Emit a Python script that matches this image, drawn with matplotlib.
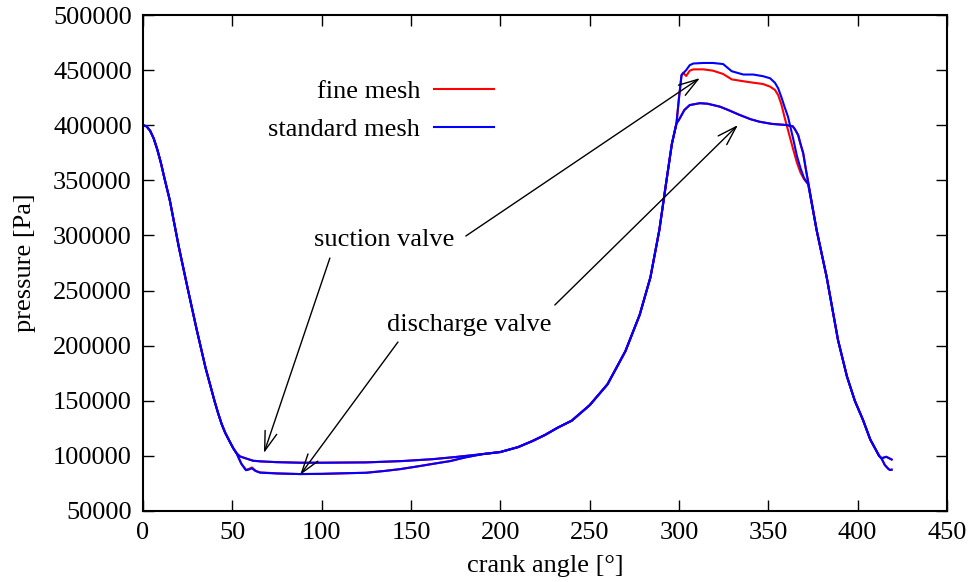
import matplotlib
matplotlib.use("Agg")
import matplotlib.pyplot as plt

# suction valve pressure (crank angle [deg], pressure [Pa])
suction_angle = [0, 2, 4, 6, 8, 10, 12, 15, 20, 25, 30, 35, 38, 40, 42, 44, 46, 48.7, 50.5,
                 52.4, 54.3, 58, 61.6, 66, 75, 88, 100, 125, 145, 162, 175, 190, 200, 210,
                 218, 225, 232, 240, 250, 260, 270, 278, 284, 289, 293, 296, 298.6, 300,
                 301.4, 302.3, 304, 306, 308, 313.6, 319, 324.7, 329.5, 336, 341.5, 347, 351,
                 353.7, 355.5, 357.4, 359, 361, 364, 366, 368, 370, 372.3, 377, 382.6, 389,
                 394, 398.4, 403, 407, 412, 413.3, 416, 419]
suction_fine = [400000, 399000, 395000, 388000, 378000, 366000, 352000, 332000, 290000, 252000,
                215000, 180000, 162000, 150000, 139000, 129000, 121000, 112500, 107000,
                102300, 99500, 97500, 95600, 95000, 94300, 93800, 93800, 94100, 95300, 97000,
                99000, 101600, 103500, 108000, 113500, 119000, 125500, 132000, 146000, 165000,
                195000, 228000, 262000, 305000, 350000, 383000, 402000, 425000, 445000,
                447700, 444700, 449500, 450700, 450700, 449500, 446500, 441600, 439900,
                438600, 437400, 435000, 432000, 427400, 418300, 407700, 395600, 377500,
                366000, 357000, 351000, 346500, 305000, 262600, 205000, 172000, 150000,
                132500, 115000, 100000, 97800, 99200, 96700]
suction_std = [400000, 399000, 395000, 388000, 378000, 366000, 352000, 332000, 290000, 252000,
               215000, 180000, 162000, 150000, 139000, 129000, 121000, 112500, 107000,
               102300, 99500, 97500, 95600, 95000, 94300, 93800, 93800, 94100, 95300, 97000,
               99000, 101600, 103500, 108000, 113500, 119000, 125500, 132000, 146000, 165000,
               195000, 228000, 262000, 305000, 350000, 383000, 402000, 425000, 445600,
               447000, 450000, 454500, 456000, 456500, 456500, 455500, 449000, 446000,
               446000, 444500, 442600, 438500, 433500, 425000, 417000, 407700, 387000,
               372000, 361000, 352000, 346500, 305000, 262600, 205000, 172000, 150000,
               132500, 115000, 100000, 97800, 99200, 96700]

# discharge valve pressure
discharge_angle = [0, 2, 4, 6, 8, 10, 12, 15, 20, 25, 30, 35, 38, 40, 42, 44, 46, 48.7, 50.5,
                   52.4, 55, 57.6, 59, 61, 63, 65.5, 75, 88, 100, 112, 125, 135, 144, 155,
                   165, 172, 180, 190, 200, 210, 218, 225, 232, 240, 250, 260, 270, 278, 284,
                   289, 293, 296, 298.6, 300, 303, 306, 311.7, 316, 323, 328, 334, 340, 345,
                   352, 360, 363.7, 365, 366.7, 368, 369.5, 371, 372.4, 377, 382.6, 389, 394,
                   398.4, 403, 407, 412, 413.3, 415.2, 417, 418, 419]
discharge_fine = [400000, 399000, 395000, 388000, 378000, 366000, 352000, 332000, 290000,
                  252000, 215000, 180000, 162000, 150000, 139000, 129000, 121000, 112500,
                  107000, 102300, 93000, 87500, 88000, 89500, 86500, 85000, 84200, 83500,
                  83700, 84200, 84700, 86300, 88000, 90800, 93500, 95300, 98500, 101600,
                  103500, 108000, 113500, 119000, 125500, 132000, 146000, 165000, 195000,
                  228000, 262000, 305000, 350000, 383000, 401700, 405000, 413800, 418300,
                  420000, 419500, 416800, 413500, 409300, 405500, 403200, 401200, 400200,
                  399000, 396000, 391000, 383000, 374700, 360000, 347300, 305000, 262600,
                  205000, 172000, 150000, 132500, 115000, 100000, 97800, 91700, 88500, 87200,
                  87500]
discharge_std = [400000, 399000, 395000, 388000, 378000, 366000, 352000, 332000, 290000,
                 252000, 215000, 180000, 162000, 150000, 139000, 129000, 121000, 112500,
                 107000, 102300, 93000, 87000, 87500, 88700, 86300, 84800, 84000, 83500,
                 83700, 84200, 84700, 86300, 88000, 90800, 93500, 95300, 98500, 101600,
                 103500, 108000, 113500, 119000, 125500, 132000, 146000, 165000, 195000,
                 228000, 262000, 305000, 350000, 383000, 401700, 405000, 413800, 418300,
                 420000, 419500, 416800, 413500, 409300, 405500, 403200, 401200, 400200,
                 399000, 396000, 391000, 383000, 374700, 360000, 347300, 305000, 262600,
                 205000, 172000, 150000, 132500, 115000, 100000, 97800, 91700, 88500, 87200,
                 87500]

plt.rcParams['font.family'] = ['Liberation Serif', 'DejaVu Serif']
plt.rcParams['font.size'] = 19

fig = plt.figure(figsize=(9.74, 5.82), dpi=100)
ax = fig.add_axes([0.1468, 0.122, 0.8255, 0.8522])

ax.plot(suction_angle, suction_fine, color='red', lw=1.5, label='fine mesh')
ax.plot(discharge_angle, discharge_fine, color='red', lw=1.5)
ax.plot(suction_angle, suction_std, color='blue', lw=1.5, label='standard mesh')
ax.plot(discharge_angle, discharge_std, color='blue', lw=1.5)

ax.set_xlim(0, 450)
ax.set_ylim(50000, 500000)
ax.set_xticks(range(0, 451, 50))
ax.set_yticks(range(50000, 500001, 50000))
ax.tick_params(direction='in', length=8, width=1, top=True, right=True, pad=8)
for s in ax.spines.values():
    s.set_linewidth(1.5)

ax.set_xlabel('crank angle [°]', labelpad=8)
ax.set_ylabel('pressure [Pa]', labelpad=12)

arrow = dict(arrowstyle='->,head_length=0.7,head_width=0.22', color='black', lw=1,
             shrinkA=0, shrinkB=0, mutation_scale=20)
ax.text(134.9, 295800, 'suction valve', ha='center', va='center')
ax.annotate('', xy=(311.7, 442800), xytext=(180.7, 299500), arrowprops=arrow)
ax.annotate('', xy=(67.7, 102600), xytext=(104.6, 279500), arrowprops=arrow)
ax.text(182.4, 218700, 'discharge valve', ha='center', va='center')
ax.annotate('', xy=(333, 400200), xytext=(230.5, 236900), arrowprops=arrow)
ax.annotate('', xy=(87.9, 82600), xytext=(142.7, 203300), arrowprops=arrow)

ax.legend(loc='upper right', bbox_to_anchor=(0.4366, 0.869), frameon=False,
          markerfirst=False, handlelength=2.27, handletextpad=0.53, labelspacing=0.55,
          borderpad=0, borderaxespad=0)

fig.savefig('out.png', dpi=100)
